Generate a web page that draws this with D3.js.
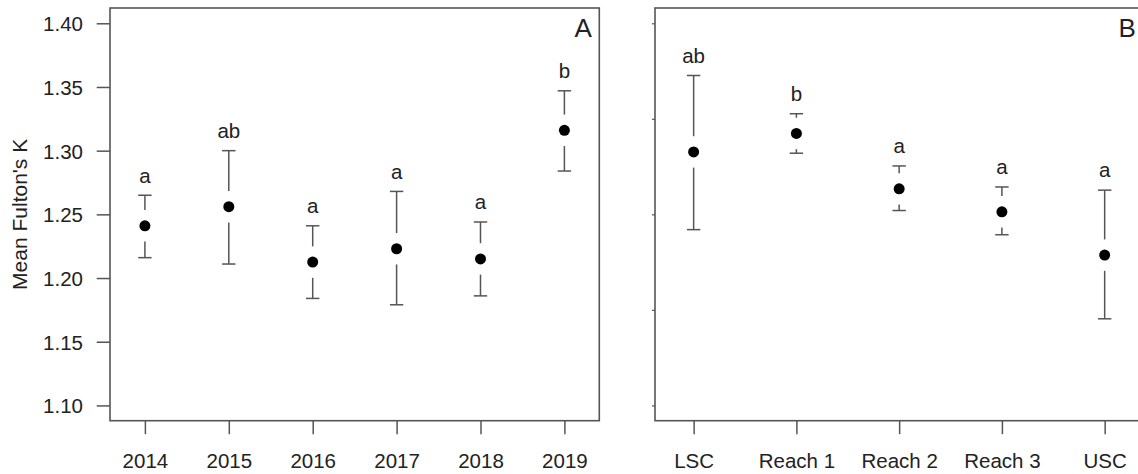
<!DOCTYPE html>
<html>
<head>
<meta charset="utf-8">
<script src="https://cdn.jsdelivr.net/npm/d3@7"></script>
<style>
  html, body { margin: 0; padding: 0; background: #fff; }
  svg { display: block; }
  text { font-family: "Liberation Sans", Arial, Helvetica, sans-serif; fill: #222; }
</style>
</head>
<body>
<svg id="chart" width="1138" height="474"></svg>
<script>
// ---- Data ----
const years = ["2014", "2015", "2016", "2017", "2018", "2019"];
const yearMean  = [1.241, 1.256, 1.2125, 1.223, 1.215, 1.316];
const yearUpper = [1.265, 1.300, 1.241, 1.268, 1.244, 1.347];
const yearLower = [1.216, 1.211, 1.184, 1.179, 1.186, 1.284];
const yearLetters = ["a", "ab", "a", "a", "a", "b"];

const sites = ["LSC", "Reach 1", "Reach 2", "Reach 3", "USC"];
const siteMean  = [1.299, 1.3135, 1.270, 1.252, 1.218];
const siteUpper = [1.359, 1.329, 1.288, 1.2715, 1.269];
const siteLower = [1.238, 1.298, 1.253, 1.234, 1.168];
const siteLetters = ["ab", "b", "a", "a", "a"];

const yTicksA = [1.10, 1.15, 1.20, 1.25, 1.30, 1.35, 1.40];
const yTicksB = [1.10, 1.175, 1.25, 1.325, 1.40];
const yTitle = "Mean Fulton's K";

// ---- Layout ----
const svg = d3.select("#chart");
const plotTop = 8, plotBottom = 420.7;
const y = d3.scaleLinear().domain([1.088, 1.412]).range([plotBottom, plotTop]);

const lineCol = "#555";
const gap = 15.7, capHalf = 6.7, rPt = 5.5;

function panel(opts) {
  const { left, right, cats, mean, upper, lower, letters, xDomain, yTicks, showYLabels, tag } = opts;
  const x = d3.scaleLinear().domain(xDomain).range([left, right]);
  const g = svg.append("g");

  // x axis
  const xAxis = d3.axisBottom(x)
    .tickValues(d3.range(1, cats.length + 1))
    .tickFormat(d => cats[d - 1])
    .tickSize(13.5)
    .tickPadding(0);
  const gx = g.append("g").attr("transform", `translate(0,${plotBottom})`).call(xAxis);
  gx.select(".domain").remove();
  gx.selectAll(".tick line").attr("stroke", lineCol).attr("stroke-width", 1.5);
  gx.selectAll(".tick text").attr("font-size", "20.5px").attr("fill", "#222")
    .attr("y", 47.5).attr("dy", 0);

  // y axis
  const yAxis = d3.axisLeft(y)
    .tickValues(yTicks)
    .tickFormat(showYLabels ? d3.format(".2f") : () => "")
    .tickSize(showYLabels ? 13.3 : 3)
    .tickPadding(showYLabels ? 13.7 : 0);
  const gy = g.append("g").attr("transform", `translate(${left},0)`).call(yAxis);
  gy.select(".domain").remove();
  gy.selectAll(".tick line").attr("stroke", lineCol).attr("stroke-width", showYLabels ? 1.5 : 1.2);
  gy.selectAll(".tick text").attr("font-size", "20.5px").attr("fill", "#222").attr("dy", "0.36em");

  // box
  g.append("rect")
    .attr("x", left).attr("y", plotTop)
    .attr("width", right - left).attr("height", plotBottom - plotTop)
    .attr("fill", "none").attr("stroke", lineCol).attr("stroke-width", 1.6);

  const data = cats.map((c, i) => ({ i: i + 1, m: mean[i], u: upper[i], l: lower[i], t: letters[i] }));

  const eb = g.append("g").attr("stroke", lineCol).attr("stroke-width", 1.5).attr("fill", "none");
  data.forEach(d => {
    const cx = x(d.i), cy = y(d.m), yu = y(d.u), yl = y(d.l);
    if (cy - gap > yu) eb.append("line").attr("x1", cx).attr("x2", cx).attr("y1", yu).attr("y2", cy - gap);
    if (cy + gap < yl) eb.append("line").attr("x1", cx).attr("x2", cx).attr("y1", cy + gap).attr("y2", yl);
    eb.append("line").attr("x1", cx - capHalf).attr("x2", cx + capHalf).attr("y1", yu).attr("y2", yu);
    eb.append("line").attr("x1", cx - capHalf).attr("x2", cx + capHalf).attr("y1", yl).attr("y2", yl);
  });

  g.selectAll("circle.pt").data(data).enter().append("circle")
    .attr("class", "pt")
    .attr("cx", d => x(d.i)).attr("cy", d => y(d.m)).attr("r", rPt)
    .attr("fill", "#000");

  g.selectAll("text.letter").data(data).enter().append("text")
    .attr("class", "letter")
    .attr("x", d => x(d.i)).attr("y", d => y(d.u) - 12.7)
    .attr("text-anchor", "middle").attr("font-size", "20.5px")
    .text(d => d.t);

  g.append("text")
    .attr("x", right - 7.5).attr("y", 36.7)
    .attr("text-anchor", "end").attr("font-size", "26px")
    .text(tag);
}

panel({ left: 110, right: 599.3, cats: years, mean: yearMean, upper: yearUpper, lower: yearLower,
        letters: yearLetters, xDomain: [0.584, 6.416], yTicks: yTicksA, showYLabels: true, tag: "A" });
panel({ left: 655, right: 1143.3, cats: sites, mean: siteMean, upper: siteUpper, lower: siteLower,
        letters: siteLetters, xDomain: [0.624, 5.376], yTicks: yTicksB, showYLabels: false, tag: "B" });

svg.append("text")
  .attr("transform", `translate(27,${(plotTop + plotBottom) / 2}) rotate(-90)`)
  .attr("text-anchor", "middle").attr("font-size", "21px")
  .text(yTitle);
</script>
</body>
</html>
